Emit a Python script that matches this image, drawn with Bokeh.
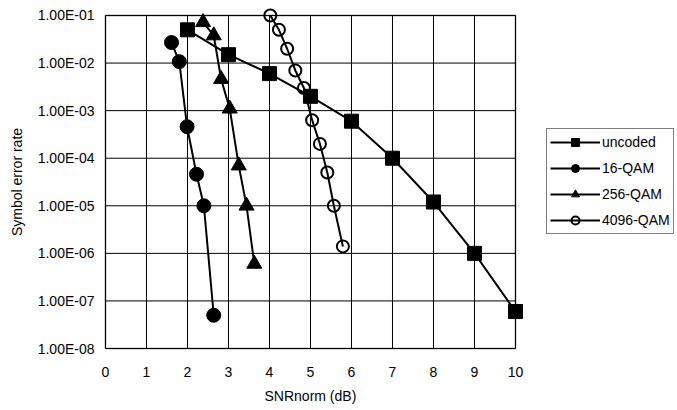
from bokeh.plotting import figure
from bokeh.models import (Legend, LegendItem, FixedTicker, CustomJSTickFormatter,
                          Range1d, BoxAnnotation, Title)
from bokeh.embed import file_html
from bokeh.resources import INLINE

# ---- data ----
uncoded_x = [2, 3, 4, 5, 6, 7, 8, 9, 10]
uncoded_y = [5e-2, 1.5e-2, 6e-3, 2e-3, 6e-4, 1e-4, 1.2e-5, 1e-6, 6e-8]

qam16_x = [1.61, 1.80, 1.99, 2.22, 2.40, 2.64]
qam16_y = [2.7e-2, 1.07e-2, 4.6e-4, 4.6e-5, 1e-5, 5e-8]

qam256_x = [2.38, 2.64, 2.82, 3.03, 3.25, 3.44, 3.63]
qam256_y = [7.2e-2, 3.8e-2, 4.6e-3, 1.1e-3, 7e-5, 1e-5, 6e-7]

qam4096_x = [4.02, 4.23, 4.43, 4.63, 4.84, 5.04, 5.23, 5.41, 5.57, 5.79]
qam4096_y = [1e-1, 5e-2, 2e-2, 7e-3, 3e-3, 6.3e-4, 2e-4, 5e-5, 1e-5, 1.4e-6]

x_ticks = [0, 1, 2, 3, 4, 5, 6, 7, 8, 9, 10]
y_ticks = [1e-8, 1e-7, 1e-6, 1e-5, 1e-4, 1e-3, 1e-2, 1e-1]

series_labels = ["uncoded", "16-QAM", "256-QAM", "4096-QAM"]

FONT = "Liberation Sans"

# Frame: left 97 px .. right 677 px, 41 px per dB; data box 0..10 dB.
# The frame is larger than the data box so edge markers and the legend are not clipped.
x_start = -0.195
x_end = x_start + (677 - 97) / 41.0
y_pad = 10 ** 0.168    # ~8 px on the log scale

p = figure(width=677, height=410, y_axis_type="log",
           x_range=Range1d(x_start, x_end),
           y_range=Range1d(y_ticks[0] / y_pad, y_ticks[-1] * y_pad),
           output_backend="svg", toolbar_location=None,
           min_border_left=97, min_border_right=0,
           min_border_top=7, min_border_bottom=54)
p.background_fill_color = "white"
p.border_fill_color = "white"
p.outline_line_color = None
p.xgrid.visible = False
p.ygrid.visible = False

# axes
p.xaxis.ticker = FixedTicker(ticks=x_ticks)
p.yaxis.ticker = FixedTicker(ticks=y_ticks)
p.yaxis.formatter = CustomJSTickFormatter(code="""
const s = tick.toExponential(2);
const parts = s.split('e');
const n = parseInt(parts[1]);
return parts[0] + 'E' + (n < 0 ? '-' : '+') + String(Math.abs(n)).padStart(2, '0');
""")
for ax in (p.xaxis[0], p.yaxis[0]):
    ax.major_tick_line_color = None
    ax.minor_tick_line_color = None
    ax.major_tick_out = 0
    ax.major_tick_in = 0
    ax.axis_line_color = None
    ax.major_label_text_font = FONT
    ax.major_label_text_font_size = "14px"
    ax.major_label_text_color = "black"
    ax.axis_label_text_font = FONT
    ax.axis_label_text_font_size = "14px"
    ax.axis_label_text_font_style = "normal"
    ax.axis_label_text_color = "black"

p.yaxis.axis_label = "Symbol error rate"
p.xaxis.major_label_standoff = 10
p.yaxis.major_label_standoff = 3
p.yaxis.axis_label_standoff = 10

# x-axis title, left-aligned under the data box
xtitle = Title(text="SNRnorm (dB)", align="left", offset=167,
               text_font=FONT, text_font_size="14px", text_font_style="normal",
               text_color="black", standoff=12)
p.add_layout(xtitle, "below")

# grid lines limited to the data box (built from the tick lists)
n_x = len(x_ticks)
n_y = len(y_ticks)
p.segment(x0=x_ticks, y0=[y_ticks[0]] * n_x, x1=x_ticks, y1=[y_ticks[-1]] * n_x,
          line_color="black", line_width=1, level="underlay")
p.segment(x0=[x_ticks[0]] * n_y, y0=y_ticks, x1=[x_ticks[-1]] * n_y, y1=y_ticks,
          line_color="black", line_width=1, level="underlay")

# plot-area border
border = BoxAnnotation(left=x_ticks[0], right=x_ticks[-1],
                       bottom=y_ticks[0], top=y_ticks[-1],
                       fill_alpha=0, line_color="black", line_width=2,
                       level="underlay")
p.add_layout(border)

# series
l1 = p.line(uncoded_x, uncoded_y, line_color="black", line_width=2)
s1 = p.scatter(uncoded_x, uncoded_y, marker="square", size=14,
               fill_color="black", line_color="black")

l2 = p.line(qam16_x, qam16_y, line_color="black", line_width=2)
s2 = p.scatter(qam16_x, qam16_y, marker="circle", size=14,
               fill_color="black", line_color="black")

l3 = p.line(qam256_x, qam256_y, line_color="black", line_width=2)
s3 = p.scatter(qam256_x, qam256_y, marker="triangle", size=15,
               fill_color="black", line_color="black")

l4 = p.line(qam4096_x, qam4096_y, line_color="black", line_width=2)
s4 = p.scatter(qam4096_x, qam4096_y, marker="circle", size=12,
               fill_color=None, line_color="black", line_width=2)

legend = Legend(items=[
    LegendItem(label=series_labels[0], renderers=[l1, s1]),
    LegendItem(label=series_labels[1], renderers=[l2, s2]),
    LegendItem(label=series_labels[2], renderers=[l3, s3]),
    LegendItem(label=series_labels[3], renderers=[l4, s4]),
], location=(449, 122))
legend.border_line_color = "black"
legend.border_line_width = 1
legend.background_fill_color = "white"
legend.background_fill_alpha = 1
legend.label_text_font = FONT
legend.label_text_font_size = "14px"
legend.label_text_color = "black"
legend.glyph_width = 50
legend.glyph_height = 20
legend.label_height = 20
legend.spacing = 6
legend.padding = 3
legend.label_standoff = 2
legend.margin = 0
p.add_layout(legend)

open("out.html", "w").write(file_html(p, INLINE))
